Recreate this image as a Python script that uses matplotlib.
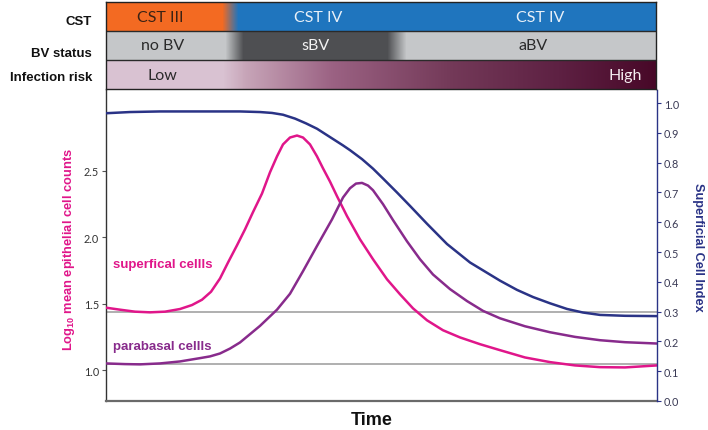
import numpy as np
import matplotlib
matplotlib.use("Agg")
import matplotlib.pyplot as plt
from matplotlib.colors import to_rgb

# ---------------- data (time in arbitrary units 0..551) ----------------
sup_t = [0, 14, 29, 44, 59, 74, 86, 96, 105, 114, 122, 131, 139, 147, 156, 164, 171, 177, 184, 191,
         197, 204, 211, 217, 224, 231, 241, 254, 267, 281, 294, 307, 321, 337, 354, 374, 394, 419,
         444, 469, 494, 519, 551]
sup_v = [1.47, 1.455, 1.44, 1.435, 1.44, 1.46, 1.49, 1.53, 1.59, 1.69, 1.81, 1.94, 2.06, 2.19, 2.33,
         2.49, 2.61, 2.70, 2.752, 2.767, 2.752, 2.70, 2.61, 2.52, 2.42, 2.31, 2.16, 1.985, 1.835,
         1.684, 1.571, 1.465, 1.375, 1.30, 1.246, 1.195, 1.15, 1.095, 1.06, 1.035, 1.022, 1.02, 1.035]

para_t = [0, 19, 34, 54, 74, 94, 104, 114, 124, 134, 154, 171, 184, 197, 211, 226, 237, 244, 250, 256,
          262, 267, 277, 287, 301, 314, 327, 344, 361, 377, 394, 419, 444, 469, 494, 519, 551]
para_v = [1.05, 1.045, 1.043, 1.05, 1.065, 1.09, 1.103, 1.125, 1.162, 1.208, 1.333, 1.455, 1.575,
          1.745, 1.935, 2.135, 2.30, 2.37, 2.405, 2.41, 2.39, 2.355, 2.25, 2.13, 1.97, 1.835, 1.72,
          1.61, 1.52, 1.446, 1.39, 1.33, 1.285, 1.25, 1.225, 1.21, 1.20]

sci_t = [0, 24, 54, 94, 134, 154, 166, 177, 189, 200, 211, 224, 237, 244, 256, 267, 277, 291, 304, 321,
         341, 364, 394, 411, 427, 444, 461, 477, 494, 519, 551]
sci_v = [0.966, 0.970, 0.972, 0.972, 0.972, 0.970, 0.967, 0.961, 0.948, 0.932, 0.914, 0.886, 0.858,
         0.842, 0.812, 0.780, 0.747, 0.70, 0.655, 0.595, 0.527, 0.465, 0.404, 0.373, 0.349, 0.328,
         0.309, 0.297, 0.289, 0.286, 0.285]

ref_levels = [1.44, 1.045]

left_ticks = [1.0, 1.5, 2.0, 2.5]
right_ticks = [0.0, 0.1, 0.2, 0.3, 0.4, 0.5, 0.6, 0.7, 0.8, 0.9, 1.0]

row_labels = ["Infection risk", "BV status", "CST"]
cst_texts = [("CST III", 54), ("CST IV", 213), ("CST IV", 435)]
bv_texts = [("no BV", 57), ("sBV", 210), ("aBV", 428)]

# banner colour stops (position, colour)
cst_stops = [(0, "#F36A22"), (116, "#F36A22"), (132, "#1F75BE"), (551, "#1F75BE")]
bv_stops = [(0, "#C5C7C9"), (119, "#C5C7C9"), (137, "#4E4F52"), (282, "#4E4F52"),
            (301, "#C5C7C9"), (551, "#C5C7C9")]
ir_stops = [(0, "#D9C2D2"), (117, "#D9C2D2"), (139, "#C8A6B9"), (227, "#9B6283"),
            (347, "#733958"), (454, "#5E2143"), (551, "#480828")]

MAG = "#E0168A"
PUR = "#882B8C"
NAVY = "#2A3386"

# ---------------- figure ----------------
W, H = 708, 431
fig = plt.figure(figsize=(W / 100, H / 100), dpi=100)


def fx(p):
    return p / W


def fy(p):
    return 1 - p / H


ax = fig.add_axes([fx(106), fy(402), fx(657) - fx(106), fy(91) - fy(402)])
ax.set_xlim(0, 551)
ax.set_ylim(0.767, 3.11)

for lv in ref_levels:
    ax.axhline(lv, color="#a9a9a9", lw=1.3, zorder=1)

ax.plot(sup_t, sup_v, color=MAG, lw=1.8, zorder=3, solid_joinstyle="round")
ax.plot(para_t, para_v, color=PUR, lw=1.8, zorder=3, solid_joinstyle="round")

ax.set_xticks([])
ax.set_yticks(left_ticks)
ax.set_yticklabels([f"{v:.1f}" for v in left_ticks], fontfamily="Lato", fontsize=7.8, color="#333333")
ax.tick_params(axis="y", length=3, width=0.8, color="#555555", pad=2)
ax.spines["left"].set_color("#333333")
ax.spines["left"].set_linewidth(1.0)
ax.spines["bottom"].set_color("#6a6a6a")
ax.spines["bottom"].set_linewidth(1.6)
ax.spines["top"].set_visible(False)
ax.spines["right"].set_visible(False)

ax.text(7, 1.80, "superfical cellls", color=MAG, fontsize=9.5, fontweight="bold",
        fontfamily="Liberation Sans", va="center", ha="left")
ax.text(7, 1.18, "parabasal cellls", color=PUR, fontsize=9.5, fontweight="bold",
        fontfamily="Liberation Sans", va="center", ha="left")

ax2 = ax.twinx()
ax2.set_ylim(0, 1.044)
ax2.plot(sci_t, sci_v, color=NAVY, lw=1.8, zorder=3, solid_joinstyle="round")
ax2.set_yticks(right_ticks)
ax2.set_yticklabels([f"{v:.1f}" for v in right_ticks], fontfamily="Lato", fontsize=7.8, color="#3a3a55")
ax2.tick_params(axis="y", length=3, width=0.8, color=NAVY, pad=2)
for s in ["left", "top", "bottom"]:
    ax2.spines[s].set_visible(False)
ax2.spines["right"].set_color(NAVY)
ax2.spines["right"].set_linewidth(1.0)

# axis labels
fig.text(fx(69), fy(250), "Log$_{\\mathregular{10}}$ mean epithelial cell counts", rotation=90,
         color=MAG, fontsize=9.3, fontweight="bold", fontfamily="Liberation Sans",
         ha="center", va="center")
fig.text(fx(698), fy(247), "Superficial Cell Index", rotation=270, color=NAVY, fontsize=9.2,
         fontweight="bold", fontfamily="Liberation Sans", ha="center", va="center")
fig.text(fx(372), fy(421), "Time", color="#111111", fontsize=13, fontweight="bold",
         fontfamily="Liberation Sans", ha="center", va="center")

# ---------------- banner ----------------
axb = fig.add_axes([fx(106), fy(90), fx(656) - fx(106), fy(3) - fy(90)])
xs = np.arange(552)


def row(stops):
    pos = [p for p, _ in stops]
    cols = np.array([to_rgb(c) for _, c in stops])
    return np.stack([np.interp(xs, pos, cols[:, k]) for k in range(3)], axis=-1)


img = np.stack([row(ir_stops), row(bv_stops), row(cst_stops)], axis=0)
axb.imshow(img, extent=(0, 551, 0, 3), origin="lower", aspect="auto", interpolation="nearest")
axb.set_xlim(0, 551)
axb.set_ylim(0, 3)
axb.set_xticks([])
axb.set_yticks([])
for s in axb.spines.values():
    s.set_color("#222222")
    s.set_linewidth(1.0)
for yl in [1, 2]:
    axb.axhline(yl, color="#2a2a2a", lw=1.0)

bfont = dict(fontfamily="Lato", fontsize=11.5, va="center")
for (txt, xp), col in zip(cst_texts, ["#3a2214", "#E8F0F8", "#E8F0F8"]):
    axb.text(xp, 2.5, txt, color=col, ha="center", **bfont)
for (txt, xp), col in zip(bv_texts, ["#2a2a2a", "#F2F2F2", "#2a2a2a"]):
    axb.text(xp, 1.5, txt, color=col, ha="center", **bfont)
axb.text(57, 0.47, "Low", color="#2a2a2a", ha="center", **bfont)
axb.text(537, 0.47, "High", color="#F5ECF0", ha="right", **bfont)

for lab, yc in zip(row_labels, [78, 54, 22]):
    fig.text(fx(92), fy(yc), lab, ha="right", va="center", fontsize=9.5, fontweight="bold",
             fontfamily="Liberation Sans", color="#111111")

fig.savefig("out.png", dpi=100)
